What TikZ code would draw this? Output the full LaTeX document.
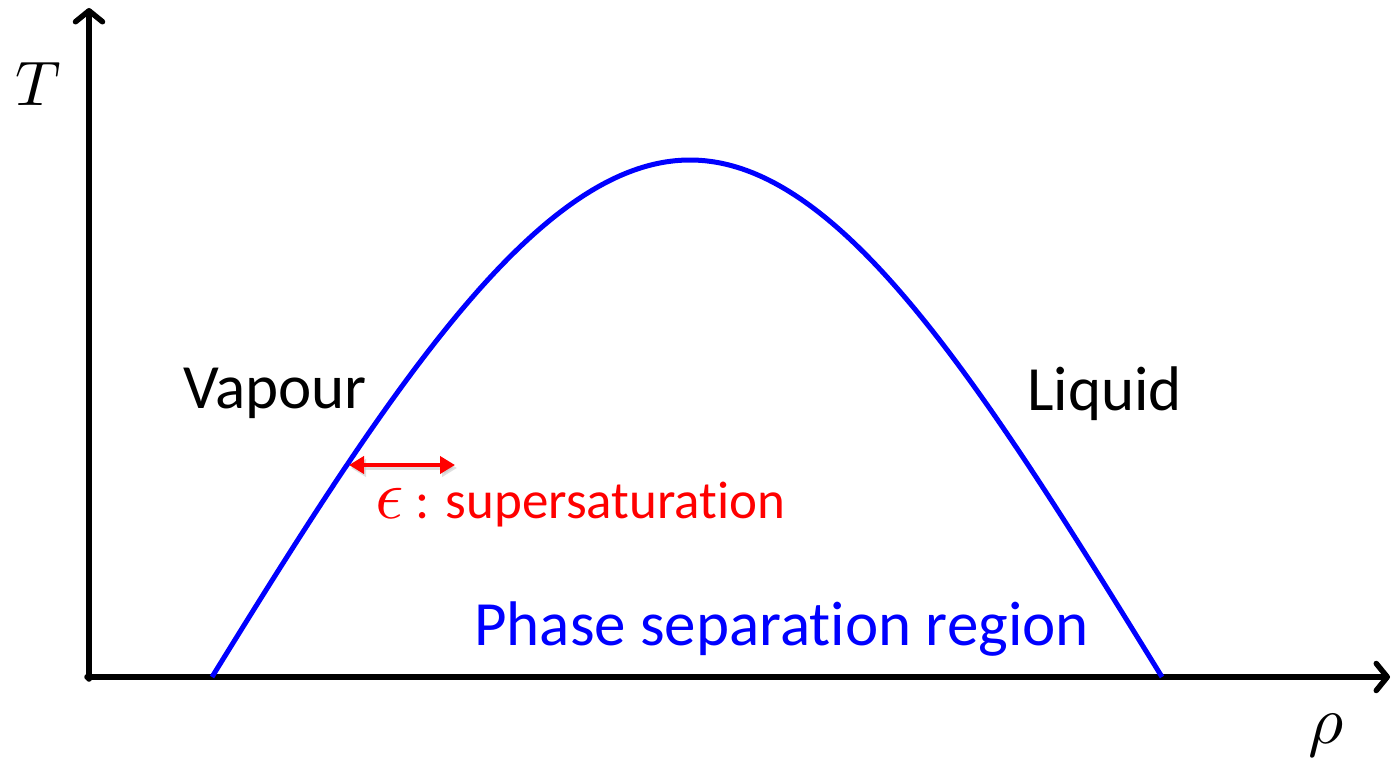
\documentclass[tikz,border=0pt]{standalone}
\usepackage{fontspec}
\usepackage{unicode-math}
\setmainfont{Carlito}[Ligatures=NoCommon]
\setmathfont{Latin Modern Math}
\usetikzlibrary{arrows.meta}
\definecolor{pblue}{RGB}{0,0,255}
\definecolor{pred}{RGB}{255,0,0}
\tikzset{
  axis/.style={line width=5.5pt, draw=black, line cap=round,
    -{Straight Barb[length=11pt, width=27pt, line width=5.5pt, round]}},
  curve/.style={line width=5pt, draw=pblue},
  epsarrow/.style={line width=4pt, draw=pred,
    {Triangle[length=15pt, width=17pt]}-{Triangle[length=15pt, width=17pt]}},
  lbl/.style={inner sep=0pt, anchor=base west, font=\fontsize{63}{70}\selectfont},
}
\begin{document}
\begin{tikzpicture}[x=1pt, y=-1pt]
\useasboundingbox (0,0) rectangle (1397,763);
% axes
\coordinate (O) at (89,677);
\coordinate (ytip) at (89,8);
\coordinate (xtip) at (1390,677);
\draw[axis] (87,677) -- (xtip);
\draw[axis] (89,679) -- (ytip);
% binodal curve
\coordinate (L) at (212,677);
\coordinate (C) at (690,160);
\coordinate (R) at (1162,677);
\draw[curve] (L) .. controls (392,385) and (540,160) .. (C)
  .. controls (840,160) and (982,385) .. (R);
% supersaturation arrow
\coordinate (e1) at (349,465);
\coordinate (e2) at (455,465);
\draw[epsarrow, draw=black!25, fill=black!25, opacity=0.5, transform canvas={shift={(2pt,-3pt)}}] (e1) -- (e2);
\draw[epsarrow, fill=pred] (e1) -- (e2);
% labels
\node[lbl] (T) at (15,105) {$T$};
\node[lbl] (rho) at (1308,743) {\fontsize{68}{70}\selectfont$\rho$};
\node[lbl] (vap) at (183,408) {Vapour};
\node[lbl] (liq) at (1027,410) {Liquid};
\node[lbl, text=pblue] (psr) at (474,645) {Phase separation region};
\node[lbl, text=pred, font=\fontsize{53}{60}\selectfont] (eps) at (375,518) {{\fontsize{70}{70}\selectfont$\epsilon$} : supersaturation};
\end{tikzpicture}
\end{document}
